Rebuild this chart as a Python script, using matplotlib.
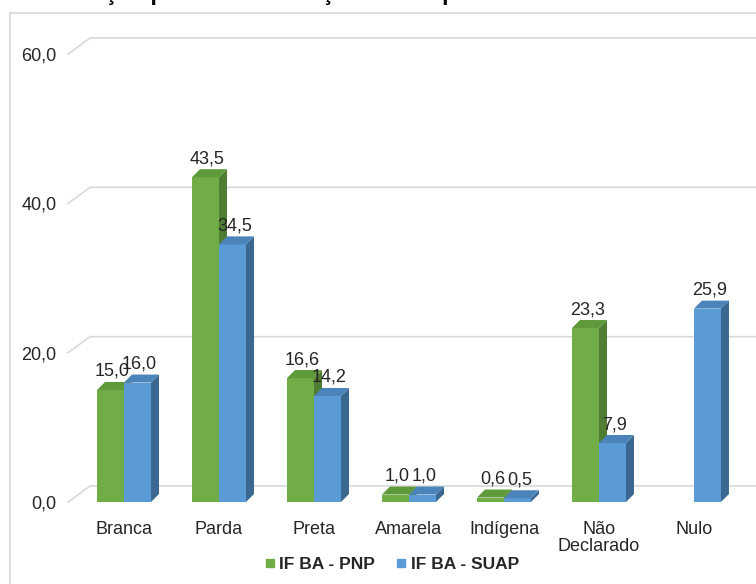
import matplotlib
matplotlib.use('Agg')
import matplotlib.pyplot as plt
from matplotlib.patches import Polygon
from matplotlib.lines import Line2D
import numpy as np

# data
categories = ['Branca', 'Parda', 'Preta', 'Amarela', 'Indígena', 'Não\nDeclarado', 'Nulo']
pnp = [15.0, 43.5, 16.6, 1.0, 0.6, 23.3, np.nan]
suap = [16.0, 34.5, 14.2, 1.0, 0.5, 7.9, 25.9]
series_names = ['IF BA - PNP', 'IF BA - SUAP']
yticks = [0, 20, 40, 60]
ytick_labels = ['0,0', '20,0', '40,0', '60,0']
title = 'Distribuição por autodeclaração de cor por modalidade'

# colours: front, top, side
green = ('#70AD47', '#5F9A3A', '#4F7D31')
blue = ('#5B9BD5', '#4A84BA', '#3A6891')
grid_c = '#D9D9D9'
text_c = '#262626'

plt.rcParams['font.family'] = ['Liberation Sans', 'DejaVu Sans']

W, H = 756, 584
fig = plt.figure(figsize=(W / 100, H / 100), dpi=100)
ax = fig.add_axes([60 / W, 82 / H, 696 / W, 448 / H])
ax.set_xlim(-0.674, 6.653)
ax.set_ylim(0, 60)
for s in ax.spines.values():
    s.set_visible(False)

ppx = 696 / (6.653 + 0.674)   # pixels per category
ppy = 448 / 60                # pixels per unit
dx, dy = 8 / ppx, 8 / ppy     # bar depth
bw = 27 / ppx

# back wall gridlines
gx0, gdx, gdy = -0.589, 22 / ppx, 16 / ppy
for v in yticks:
    ax.plot([gx0, gx0 + gdx, 6.653], [v, v + gdy, v + gdy], color=grid_c,
            lw=1.2, clip_on=False, zorder=1)

def bar3d(xl, h, cols, z):
    ax.bar(xl, h, bw, align='edge', color=cols[0], lw=0, zorder=z)
    side = Polygon([(xl + bw, 0), (xl + bw + dx, dy), (xl + bw + dx, h + dy), (xl + bw, h)],
                   closed=True, fc=cols[2], lw=0, zorder=z, clip_on=False)
    top = Polygon([(xl, h), (xl + dx, h + dy), (xl + bw + dx, h + dy), (xl + bw, h)],
                  closed=True, fc=cols[1], lw=0, zorder=z, clip_on=False)
    ax.add_patch(side)
    ax.add_patch(top)
    ax.text(xl + bw / 2 + 2 / ppx, h + dy + 6 / ppy, f'{h:.1f}'.replace('.', ','),
            ha='center', va='baseline', fontsize=13, color=text_c, zorder=20)

z = 3
for i in range(len(categories)):
    for vals, cols, off in ((pnp, green, -bw), (suap, blue, 0)):
        v = vals[i]
        if np.isnan(v):
            continue
        bar3d(i + off, v, cols, z)
        z += 1

ax.set_xticks(range(len(categories)), labels=categories)
ax.set_yticks(yticks, labels=ytick_labels)
ax.tick_params(axis='x', length=0, pad=13.5, labelsize=13, labelcolor=text_c)
ax.tick_params(axis='y', length=0, pad=2.5, labelsize=13, labelcolor=text_c)
for t in ax.get_xticklabels():
    t.set_linespacing(1.05)

# legend
handles = [Line2D([], [], marker='s', ls='none', ms=6, color=c[0], mec=c[0])
           for c in (green, blue)]
fig.legend(handles, series_names, loc='center', bbox_to_anchor=(392 / W, 20 / H),
           ncol=2, frameon=False, handlelength=0.5, handletextpad=0.3,
           columnspacing=1.25, prop={'weight': 'bold', 'size': 12.5},
           labelcolor=text_c)

# chart border (cut by the image edges)
fig.add_artist(Line2D([10 / W, 10 / W], [0, (H - 13) / H], color=grid_c, lw=1.2))
fig.add_artist(Line2D([10 / W, 1], [(H - 13) / H, (H - 13) / H], color=grid_c, lw=1.2))

# title lies above the visible area, only its descenders show
fig.text(12 / W, 1.0, title, fontsize=16.5, fontweight='bold', va='baseline',
         ha='left', color='black')

fig.savefig('out.png', dpi=100)
